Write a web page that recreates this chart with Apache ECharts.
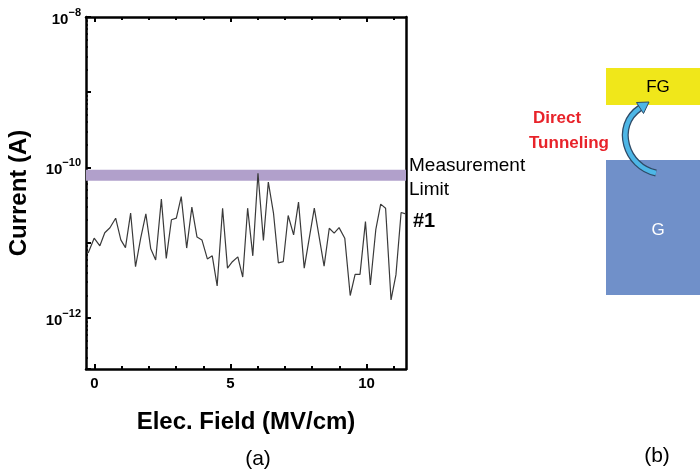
<!DOCTYPE html>
<html>
<head>
<meta charset="utf-8">
<script src="https://cdn.jsdelivr.net/npm/echarts@6/dist/echarts.min.js"></script>
<style>html,body{margin:0;padding:0;background:#fff;}#c{width:700px;height:473px;}</style>
</head>
<body>
<div id="c"></div>
<script>
// ---- data ----
const fieldMVcm = [-0.23,-0.01,0.20,0.38,0.57,0.78,0.97,1.14,1.33,1.51,1.70,1.89,2.07,2.25,2.46,2.64,2.83,3.01,3.19,3.39,3.58,3.77,3.95,4.15,4.33,4.51,4.71,4.89,5.07,5.27,5.45,5.63,5.82,6.01,6.21,6.39,6.58,6.76,6.94,7.12,7.32,7.50,7.71,8.08,8.44,8.63,8.81,8.99,9.20,9.40,9.58,9.76,9.96,10.14,10.34,10.52,10.70,10.90,11.08,11.27,11.44];
const currentA = [7.3e-12,1.15e-11,9.1e-12,1.36e-11,1.58e-11,2.12e-11,1.09e-11,8.6e-12,2.48e-11,4.8e-12,1.15e-11,2.42e-11,8.3e-12,5.9e-12,3.8e-11,6.2e-12,2.02e-11,2.12e-11,4.1e-11,8.5e-12,2.97e-11,1.19e-11,1.09e-11,6.1e-12,6.7e-12,2.67e-12,2.88e-11,4.6e-12,5.6e-12,6.5e-12,3.5e-12,2.88e-11,6.7e-12,8.4e-11,1.07e-11,6.4e-11,2.48e-11,5.4e-12,5.6e-12,2.3e-11,1.27e-11,3.47e-11,4.6e-12,2.88e-11,4.9e-12,1.56e-11,1.34e-11,1.59e-11,1.15e-11,1.99e-12,3.8e-12,3.8e-12,1.91e-11,2.75e-12,1.49e-11,3.26e-11,2.88e-11,1.74e-12,3.74e-12,2.52e-11,2.42e-11];
const limitBand = [6.65e-11, 9.3e-11];
const xMajorTicks = [0, 5, 10];
const xMinorTicks = [1, 2, 3, 4, 6, 7, 8, 9, 11];
const yLabelExponents = [-12, -10, -8];
const xRange = [-0.31, 11.45];
const yRange = [2.1e-13, 1e-8];

const chart = echarts.init(document.getElementById('c'));
const FONT = '"Liberation Sans", Arial, sans-serif';
const axisCommon = {type: 'value', min: xRange[0], max: xRange[1], splitLine: {show: false}};
const option = {
  animation: false,
  backgroundColor: '#fff',
  grid: {left: 86, top: 17, width: 320, height: 352, containLabel: false},
  xAxis: [
    Object.assign({}, axisCommon, {
      position: 'bottom',
      name: 'Elec. Field (MV/cm)', nameLocation: 'middle', nameGap: 41,
      nameTextStyle: {fontFamily: FONT, fontWeight: 'bold', fontSize: 24, color: '#000'},
      axisLine: {show: true, onZero: false, lineStyle: {color: '#000', width: 2.5}},
      axisTick: {show: true, inside: true, length: 5, customValues: xMajorTicks, lineStyle: {color: '#000', width: 2}},
      axisLabel: {customValues: xMajorTicks, margin: 7, fontFamily: FONT, fontWeight: 'bold', fontSize: 15, color: '#000'}
    }),
    Object.assign({}, axisCommon, {
      position: 'bottom',
      axisLine: {show: false, onZero: false},
      axisTick: {show: true, inside: true, length: 3, customValues: xMinorTicks, lineStyle: {color: '#000', width: 2}},
      axisLabel: {show: false}
    }),
    Object.assign({}, axisCommon, {
      position: 'top',
      axisLine: {show: true, onZero: false, lineStyle: {color: '#000', width: 2.5}},
      axisTick: {show: true, inside: true, length: 5, customValues: xMajorTicks, lineStyle: {color: '#000', width: 2}},
      axisLabel: {show: false}
    }),
    Object.assign({}, axisCommon, {
      position: 'top',
      axisLine: {show: false, onZero: false},
      axisTick: {show: true, inside: true, length: 3, customValues: xMinorTicks, lineStyle: {color: '#000', width: 2}},
      axisLabel: {show: false}
    })
  ],
  yAxis: [
    {
      type: 'log', logBase: 10, min: yRange[0], max: yRange[1], position: 'left',
      name: 'Current (A)', nameLocation: 'middle', nameGap: 55,
      nameTextStyle: {fontFamily: FONT, fontWeight: 'bold', fontSize: 24, color: '#000'},
      splitLine: {show: false},
      axisLine: {show: true, onZero: false, lineStyle: {color: '#000', width: 2.5}},
      axisTick: {show: true, inside: true, length: 5, lineStyle: {color: '#000', width: 2}},
      minorTick: {show: true, splitNumber: 9, length: 2, lineStyle: {color: '#000', width: 1.5}},
      axisLabel: {
        margin: 5, showMinLabel: true, showMaxLabel: true, hideOverlap: false,
        formatter: function (v) {
          const l = Math.log10(v), e = Math.round(l);
          if (Math.abs(l - e) > 1e-6 || yLabelExponents.indexOf(e) < 0) return '';
          return '{b|10}{s|\u2212' + (-e) + '}';
        },
        rich: {
          b: {fontFamily: FONT, fontWeight: 'bold', fontSize: 15, color: '#000', lineHeight: 20, verticalAlign: 'bottom'},
          s: {fontFamily: FONT, fontWeight: 'bold', fontSize: 11, color: '#000', lineHeight: 12, verticalAlign: 'top'}
        }
      }
    },
    {
      type: 'log', logBase: 10, min: yRange[0], max: yRange[1], position: 'right',
      splitLine: {show: false},
      axisLine: {show: true, onZero: false, lineStyle: {color: '#000', width: 2.5}},
      axisTick: {show: false}, axisLabel: {show: false}
    }
  ],
  series: [{
    type: 'line',
    xAxisIndex: 0, yAxisIndex: 0,
    data: fieldMVcm.map((x, i) => [x, currentA[i]]),
    showSymbol: false, symbol: 'none',
    lineStyle: {color: '#3a3a3a', width: 1.2},
    clip: true,
    z: 3,
    markArea: {
      silent: true,
      itemStyle: {color: '#b1a0cb', opacity: 1},
      data: [[{yAxis: limitBand[0]}, {yAxis: limitBand[1]}]]
    }
  }],
  graphic: [
    {type: 'text', left: 409, top: 156, style: {text: 'Measurement', font: '19px ' + FONT, fill: '#000'}},
    {type: 'text', left: 409, top: 180, style: {text: 'Limit', font: '19px ' + FONT, fill: '#000'}},
    {type: 'text', left: 413, top: 211, style: {text: '#1', font: 'bold 20px ' + FONT, fill: '#000'}},
    {type: 'text', x: 258, y: 459, style: {text: '(a)', font: '21px ' + FONT, fill: '#000', align: 'center', verticalAlign: 'middle'}},
    {type: 'text', x: 657, y: 456, style: {text: '(b)', font: '21px ' + FONT, fill: '#000', align: 'center', verticalAlign: 'middle'}},
    {type: 'rect', shape: {x: 606, y: 68, width: 94, height: 37}, style: {fill: '#f0e71a'}},
    {type: 'text', x: 658, y: 87, style: {text: 'FG', font: '17px ' + FONT, fill: '#000', align: 'center', verticalAlign: 'middle'}},
    {type: 'rect', shape: {x: 606, y: 160, width: 94, height: 135}, style: {fill: '#7090c9'}},
    {type: 'text', x: 658, y: 230, style: {text: 'G', font: '17px ' + FONT, fill: '#fff', align: 'center', verticalAlign: 'middle'}},
    {type: 'text', left: 533, top: 110, style: {text: 'Direct', font: 'bold 17px ' + FONT, fill: '#e8232a'}},
    {type: 'text', left: 529, top: 135, style: {text: 'Tunneling', font: 'bold 17px ' + FONT, fill: '#e8232a'}},
    {type: 'bezierCurve', shape: {x1: 656, y1: 173, cpx1: 626, cpy1: 167, cpx2: 613, cpy2: 126, x2: 640, y2: 108},
      style: {stroke: '#2e4a66', lineWidth: 7, fill: null}},
    {type: 'bezierCurve', shape: {x1: 656, y1: 173, cpx1: 626, cpy1: 167, cpx2: 613, cpy2: 126, x2: 640, y2: 108},
      style: {stroke: '#4db6e6', lineWidth: 4.5, fill: null}},
    {type: 'polygon', shape: {points: [[649, 102], [636.5, 102.5], [643.5, 113.5]]},
      style: {fill: '#4db6e6', stroke: '#2e4a66', lineWidth: 1}}
  ]
};
chart.setOption(option);
</script>
</body>
</html>
